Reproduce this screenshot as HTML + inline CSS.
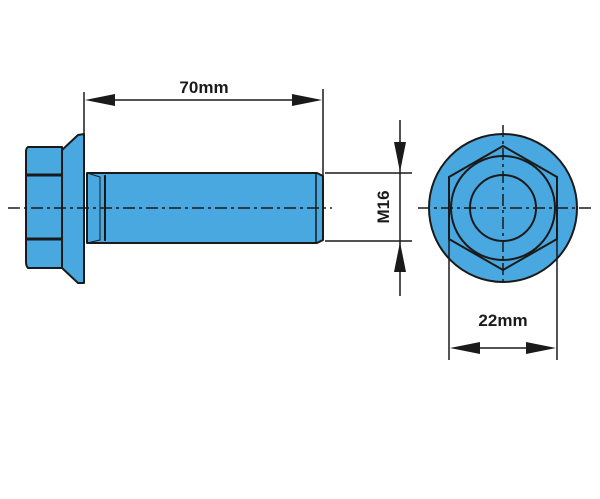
<!DOCTYPE html>
<html><head><style>body{margin:0;background:#fff}svg{display:block}</style></head><body>
<svg width="600" height="499" viewBox="0 0 600 499" xmlns="http://www.w3.org/2000/svg">
<rect width="600" height="499" fill="#fff"/>
<g stroke="#1a1a1a" stroke-width="2" fill="#4aa8e0" stroke-linejoin="round">
  <!-- flange -->
  <path d="M62,150 L78,135 L84,134 L84,283 L78,283 L62,268 Z"/>
  <!-- hex head -->
  <path d="M28,147 L62,147 L62,268 L28,268 Q26,266 26,262 L26,152 Q26,148 28,147 Z"/>
  <line x1="26" y1="175" x2="62" y2="175" stroke-width="3"/>
  <line x1="26" y1="239" x2="62" y2="239" stroke-width="3"/>
  <!-- shank -->
  <path d="M87,173 L317,173 L323,176 L323,240 L317,243 L87,243 Z"/>
  <line x1="105" y1="175" x2="105" y2="241"/>
  <line x1="316" y1="174" x2="316" y2="242" stroke-width="1.5"/>
  <path d="M87,173 L100,177 L100,240 L87,243" fill="none" stroke-width="1"/>
</g>
<!-- right view -->
<g stroke="#1a1a1a" stroke-width="2" fill="#4aa8e0">
  <circle cx="503" cy="208" r="74"/>
  <polygon points="503,146 557,177 557,239 503,270 449,239 449,177"/>
  <circle cx="503" cy="208" r="52" fill="none"/>
  <circle cx="503" cy="208" r="33"/>
</g>
<!-- center lines -->
<g stroke="#1a1a1a" stroke-width="1.5" stroke-dasharray="12,4,3,4" fill="none">
  <line x1="8" y1="208" x2="332" y2="208"/>
  <line x1="418" y1="208" x2="592" y2="208"/>
  <line x1="503" y1="125" x2="503" y2="285"/>
</g>
<!-- dimension lines -->
<g stroke="#1a1a1a" stroke-width="1.5" fill="none">
  <line x1="84" y1="92" x2="84" y2="136"/>
  <line x1="323" y1="89" x2="323" y2="176"/>
  <line x1="90" y1="100" x2="318" y2="100"/>
  <line x1="325" y1="173" x2="412" y2="173"/>
  <line x1="325" y1="241" x2="412" y2="241"/>
  <line x1="400" y1="120" x2="400" y2="296"/>
  <line x1="449" y1="240" x2="449" y2="360"/>
  <line x1="557" y1="240" x2="557" y2="360"/>
  <line x1="455" y1="348" x2="551" y2="348"/>
</g>
<g fill="#1a1a1a">
  <polygon points="85,100 115,94 115,106"/>
  <polygon points="322,100 292,94 292,106"/>
  <polygon points="400,172 394,142 406,142"/>
  <polygon points="400,242 394,272 406,272"/>
  <polygon points="450,348 480,342 480,354"/>
  <polygon points="556,348 526,342 526,354"/>
</g>
<g font-family="Liberation Sans, sans-serif" font-weight="bold" font-size="17" fill="#1a1a1a" text-anchor="middle">
  <text x="204" y="93">70mm</text>
  <text x="503" y="326">22mm</text>
  <text x="0" y="0" transform="translate(389,207) rotate(-90)">M16</text>
</g>
</svg>
</body></html>
